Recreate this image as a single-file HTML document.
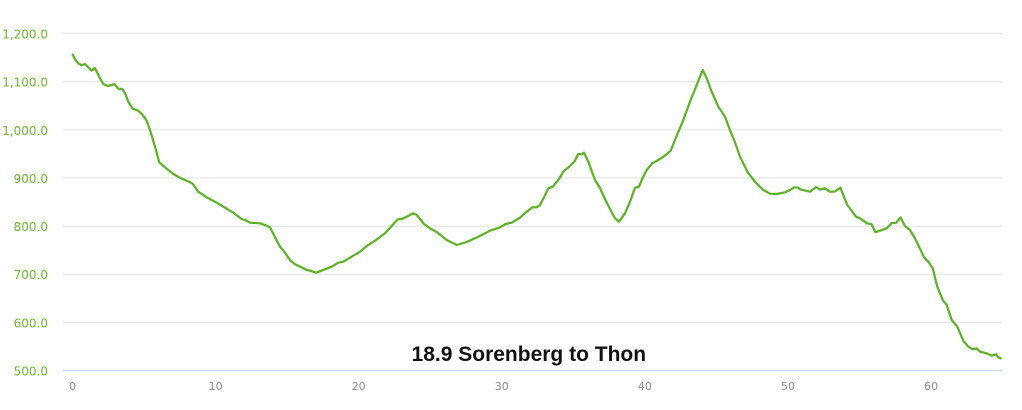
<!DOCTYPE html>
<html>
<head>
<meta charset="utf-8">
<style>
  html, body { margin: 0; padding: 0; background: #ffffff; }
  body { width: 1022px; height: 410px; overflow: hidden; }
  svg { display: block; }
</style>
</head>
<body>
<svg width="1022" height="410" viewBox="0 0 1022 410" xmlns="http://www.w3.org/2000/svg">
  <rect x="0" y="0" width="1022" height="410" fill="#ffffff"/>
  <!-- grid -->
  <g stroke="#e6e6e6" stroke-width="1.2">
    <line x1="63" y1="33.5" x2="1002" y2="33.5"/>
    <line x1="63" y1="81.6" x2="1002" y2="81.6"/>
    <line x1="63" y1="129.8" x2="1002" y2="129.8"/>
    <line x1="63" y1="177.9" x2="1002" y2="177.9"/>
    <line x1="63" y1="226.1" x2="1002" y2="226.1"/>
    <line x1="63" y1="274.2" x2="1002" y2="274.2"/>
    <line x1="63" y1="322.3" x2="1002" y2="322.3"/>
  </g>
  <line x1="63" y1="370.5" x2="1002" y2="370.5" stroke="#ccd6eb" stroke-width="1.2"/>
  <!-- y labels -->
  <g font-family="'DejaVu Sans', 'Liberation Sans', sans-serif" font-size="12" fill="#6cbb2e" text-anchor="end">
    <text x="48" y="38.5">1,200.0</text>
    <text x="48" y="86.6">1,100.0</text>
    <text x="48" y="134.8">1,000.0</text>
    <text x="48" y="182.9">900.0</text>
    <text x="48" y="231.1">800.0</text>
    <text x="48" y="279.2">700.0</text>
    <text x="48" y="327.3">600.0</text>
    <text x="48" y="375.5">500.0</text>
  </g>
  <!-- x labels -->
  <g font-family="'DejaVu Sans', 'Liberation Sans', sans-serif" font-size="11" fill="#8a8a8a" text-anchor="middle">
    <text x="72.5" y="390">0</text>
    <text x="215.6" y="390">10</text>
    <text x="358.7" y="390">20</text>
    <text x="501.8" y="390">30</text>
    <text x="644.9" y="390">40</text>
    <text x="788" y="390">50</text>
    <text x="931.1" y="390">60</text>
  </g>
  <!-- series -->
  <polyline fill="none" stroke="#5ab224" stroke-width="2.2" stroke-linejoin="round" stroke-linecap="round"
    points="72.7,54.7 75,59.3 78.3,63.3 81.7,65.3 85,64 88.3,67.3 91.7,70.7 94.7,68 96.7,71.7 100,78.3 103.3,84 107.7,86 111.7,85 114.3,84 118.3,88.7 122.3,89 125,93.3 128.3,101.7 132.7,108.7 138.3,110.7 142.7,115 146.7,120.7 150,130 155,146.7 159.3,162.3 165,167.3 173.3,174 181.7,178.7 186.7,180.7 192.7,183.7 198.3,191.7 206.7,197.3 216.7,202.7 225,207.7 233.3,212.7 241.7,219 245,220 250,222.7 260,223.3 265,225 270,227.3 275,237.3 280,246.7 285,252.7 290,260 295,264.3 301,267 306.7,270 310,270.7 316,272.7 325,269.3 331.7,266.7 338.3,262.7 343.3,261.7 351.7,256.7 360,251.7 366.7,246 375,240.7 385,233.3 391.7,226 397.7,219.3 401.7,219 406.7,216.7 413.3,213.3 416.7,215 424,224 430,228.3 437.7,232.7 446.7,240 456.7,245 466.7,242 475,238.3 481.7,235 490,230.7 499.3,227.7 505.7,224 511.7,222.7 520,217.7 526.7,211.7 532.3,207.3 536.7,207.3 540,205 544.3,196.7 548.3,188.3 552.7,186.7 558.3,180 564,170.7 569.3,166.7 575,160.7 578.3,154 581.7,154.3 584,152.7 588.3,161.7 595,180 600,188 605,199 610,209 615,218.3 619,221.7 625,213.3 630,201.7 635,187.7 639,186.7 641.7,180 646.7,170 652.3,163.3 660,159 666.7,154.3 670.7,150.7 675,140 683.3,120 690,101.7 696.7,85 702.7,70 706.7,78.3 711.7,91.7 718.3,106.7 725,116.7 730,130 735,142.3 740,156.7 747.7,172.3 755,181.7 763.3,190 770,193.7 776.7,194 785,192.3 790,190 794.3,187.3 798.3,187.7 800,189.3 810,191.7 816,187 820,189.5 825,188.3 830,191.8 835,191.5 840.5,187.7 844,197 847.3,205 850,208.5 856,216.7 860,218.3 867,223.3 871.5,224.2 875.5,232.2 880,230.7 886.7,228.3 891.7,223 896,222.8 900.5,217.5 905,226 910,230 915,238.3 919.3,247.3 924,257.3 928.3,261.7 932.7,268.3 937.3,286.7 942.7,300 946.7,305 951.7,320 957.3,326.7 963.3,340.7 968.3,346.7 972.7,349.3 976.7,348.3 980,351.7 986.7,353.3 991.7,355.7 996,354.3 998.3,357.3 1000.7,358.3"/>
  <!-- title -->
  <text x="528.8" y="361" text-anchor="middle" font-family="'Liberation Sans', Arial, sans-serif" font-size="21" font-weight="bold" fill="#111111">18.9 Sorenberg to Thon</text>
</svg>
</body>
</html>
